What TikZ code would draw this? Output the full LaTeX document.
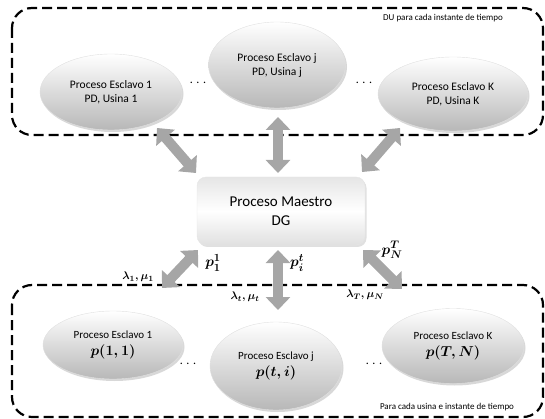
\documentclass[tikz,border=0pt]{standalone}
\usepackage{fontspec}
\setmainfont{Carlito}
\usepackage{amsmath}
\usepackage{bm}
\usetikzlibrary{shapes.geometric,arrows.meta,shadows,calc}
\tikzset{
  slave/.style={ellipse, inner sep=0pt, align=center, top color=white, bottom color=black!28,
    draw=black!12, drop shadow={shadow xshift=1.5pt, shadow yshift=-2pt, fill=black!30, opacity=0.5},
    font=\fontsize{11.5}{14}\selectfont},
  master/.style={rectangle, rounded corners=9pt, align=center, minimum width=168pt, minimum height=68pt,
    top color=black!10, bottom color=black!12, middle color=white, draw=black!10,
    drop shadow={shadow xshift=1.5pt, shadow yshift=-2pt, fill=black!30, opacity=0.4},
    font=\fontsize{15}{19}\selectfont},
  bigarrow/.style={line width=10pt, draw=black!35, {Triangle[width=24pt,length=13pt]}-{Triangle[width=24pt,length=13pt]}},
  region/.style={draw=black, line width=2.2pt, dash pattern=on 10pt off 5pt, rounded corners=20pt},
  small/.style={font=\fontsize{9}{11}\selectfont},
  lab/.style={font=\fontsize{11}{13}\selectfont\boldmath},
  dotsn/.style={font=\fontsize{12}{14}\selectfont},
  pm/.style={font=\fontsize{15}{17}\selectfont\boldmath}
}
\begin{document}
\begin{tikzpicture}[x=1pt,y=-1pt]
\useasboundingbox (0,0) rectangle (545,419);
% regions
\draw[region] (12,8) rectangle (543,135);
\draw[region] (12,285) rectangle (543,417);
\node[small, anchor=center] (t1) at (443,18) {DU para cada instante de tiempo};
\node[small, anchor=center] (t2) at (447,407) {Para cada usina e instante de tiempo};
% top slaves
\node[slave, minimum width=142pt, minimum height=76pt] (u1) at (111,92) {Proceso Esclavo 1\\PD, Usina 1};
\node[slave, minimum width=137pt, minimum height=86pt] (uj) at (277,65) {Proceso Esclavo j\\PD, Usina j};
\node[slave, minimum width=150pt, minimum height=74pt] (uK) at (453,94) {Proceso Esclavo K\\PD, Usina K};
\node[dotsn] (d1) at (198,83) {. . .};
\node[dotsn] (d2) at (364,83) {. . .};
% master
\node[master] (m) at (281,211) {Proceso Maestro\\DG};
% bottom slaves
\node[slave, minimum width=140pt, minimum height=68pt, font=\fontsize{11}{13}\selectfont] (b1) at (113,345) {Proceso Esclavo 1\\[4pt]{\fontsize{15}{17}\selectfont\boldmath$p(1,1)$}};
\node[slave, minimum width=132pt, minimum height=88pt, font=\fontsize{11}{13}\selectfont] (bj) at (276,366) {Proceso Esclavo j\\[4pt]{\fontsize{15}{17}\selectfont\boldmath$p(t,i)$}};
\node[slave, minimum width=142pt, minimum height=75pt, font=\fontsize{11}{13}\selectfont] (bK) at (453,346) {Proceso Esclavo K\\[4pt]{\fontsize{15}{17}\selectfont\boldmath$p(T,N)$}};
\node[dotsn] (d3) at (188,364) {. . .};
\node[dotsn] (d4) at (374,364) {. . .};
% arrows
\draw[bigarrow] ($(u1)+(46,36)$) -- ($(m)+(-85,-38)$);
\draw[bigarrow] ($(uj)+(1,52)$) -- ($(m)+(-3,-38)$);
\draw[bigarrow] ($(uK)+(-53,34)$) -- ($(m)+(81,-39)$);
\draw[bigarrow] ($(m)+(-83,39)$) -- ($(b1)+(49,-57)$);
\draw[bigarrow] ($(m)+(-3,39)$) -- ($(bj)+(2,-56)$);
\draw[bigarrow] ($(m)+(82,39)$) -- ($(bK)+(-51,-57)$);
% labels
\node[pm] (l1) at (213,263) {$p_1^1$};
\node[pm] (l2) at (297,263) {$p_i^t$};
\node[pm] (l3) at (392,250) {$p_N^T$};
\node[lab] (l4) at (138,277) {$\lambda_1,\mu_1$};
\node[lab] (l5) at (245,297) {$\lambda_t,\mu_t$};
\node[lab] (l6) at (365,295) {$\lambda_T,\mu_N$};
\end{tikzpicture}
\end{document}
